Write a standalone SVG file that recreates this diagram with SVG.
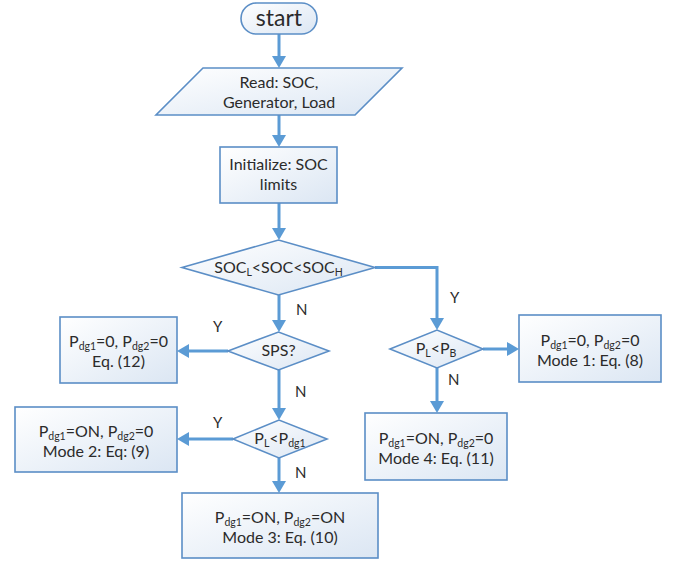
<svg xmlns="http://www.w3.org/2000/svg" width="683" height="564" viewBox="0 0 683 564">
  <defs>
    <linearGradient id="fillGrad" x1="0" y1="0" x2="1" y2="1">
      <stop offset="0" stop-color="#ffffff"/>
      <stop offset="1" stop-color="#dbe6f3"/>
    </linearGradient>
    <marker id="arrow" viewBox="0 0 12 14" markerWidth="12" markerHeight="14" refX="1" refY="7" orient="auto" markerUnits="userSpaceOnUse">
      <path d="M0,0 L12,7 L0,14 z" fill="#5b9bd5"/>
    </marker>
    <style>
      .shape { fill: url(#fillGrad); stroke: #5b8ec6; stroke-width: 1.6; }
      .conn { fill: none; stroke: #5b9bd5; stroke-width: 3; marker-end: url(#arrow); }
      text { font-family: Lato, "Open Sans", "Liberation Sans", sans-serif; font-size: 16px; fill: #2b2b2b; }
      .c { text-anchor: middle; }
      .lbl { font-size: 15px; }
      .title { font-size: 23px; }
      .sub { font-size: 10.5px; }
    </style>
  </defs>

  <g id="connectors">
    <path class="conn" d="M279,34 V57"/>
    <path class="conn" d="M279,115 V136"/>
    <path class="conn" d="M279,203 V229"/>
    <path class="conn" d="M279,295 V321"/>
    <path class="conn" d="M375,267.5 H437 V319"/>
    <path class="conn" d="M228,351 H188"/>
    <path class="conn" d="M279,370 V409"/>
    <path class="conn" d="M233,439 H188"/>
    <path class="conn" d="M279,458 V482"/>
    <path class="conn" d="M483,349 H508"/>
    <path class="conn" d="M437,368 V402"/>
    <text class="lbl" x="296" y="315">N</text>
    <text class="lbl" x="450" y="303">Y</text>
    <text class="lbl" x="213" y="332">Y</text>
    <text class="lbl" x="295" y="397">N</text>
    <text class="lbl" x="213" y="428">Y</text>
    <text class="lbl" x="295" y="478">N</text>
    <text class="lbl" x="448" y="385">N</text>
  </g>

  <g id="start">
    <rect class="shape" x="241" y="3" width="76" height="31" rx="15.5"/>
    <text class="c title" x="279" y="26">start</text>
  </g>

  <g id="read">
    <polygon class="shape" points="203,68 402,68 355,115 156,115"/>
    <text class="c" x="279" y="88">Read: SOC,</text>
    <text class="c" x="279" y="108">Generator, Load</text>
  </g>

  <g id="initialize">
    <rect class="shape" x="220" y="147" width="117" height="56"/>
    <text class="c" x="278.5" y="170">Initialize: SOC</text>
    <text class="c" x="278.5" y="190">limits</text>
  </g>

  <g id="decision-soc">
    <polygon class="shape" points="182,267.5 278.5,240 375,267.5 278.5,295"/>
    <text class="c" x="278.5" y="273">SOC<tspan class="sub" dy="3">L</tspan><tspan dy="-3">&lt;SOC&lt;SOC</tspan><tspan class="sub" dy="3">H</tspan></text>
  </g>

  <g id="decision-sps">
    <polygon class="shape" points="228,351 278.5,332 329,351 278.5,370"/>
    <text class="c" x="278.5" y="356">SPS?</text>
  </g>

  <g id="box-eq12">
    <rect class="shape" x="60" y="317" width="117" height="66"/>
    <text class="c" x="118.5" y="347">P<tspan class="sub" dy="3">dg1</tspan><tspan dy="-3">=0, P</tspan><tspan class="sub" dy="3">dg2</tspan><tspan dy="-3">=0</tspan></text>
    <text class="c" x="118.5" y="367">Eq. (12)</text>
  </g>

  <g id="decision-pl-pdg1">
    <polygon class="shape" points="233,439 279,420 327,439 279,458"/>
    <text class="c" x="280" y="444">P<tspan class="sub" dy="3">L</tspan><tspan dy="-3">&lt;P</tspan><tspan class="sub" dy="3">dg1</tspan></text>
  </g>

  <g id="box-mode2">
    <rect class="shape" x="15" y="407" width="162" height="65"/>
    <text class="c" x="96" y="437">P<tspan class="sub" dy="3">dg1</tspan><tspan dy="-3">=ON, P</tspan><tspan class="sub" dy="3">dg2</tspan><tspan dy="-3">=0</tspan></text>
    <text class="c" x="96" y="457">Mode 2: Eq: (9)</text>
  </g>

  <g id="box-mode3">
    <rect class="shape" x="182" y="493" width="196" height="65"/>
    <text class="c" x="280" y="523">P<tspan class="sub" dy="3">dg1</tspan><tspan dy="-3">=ON, P</tspan><tspan class="sub" dy="3">dg2</tspan><tspan dy="-3">=ON</tspan></text>
    <text class="c" x="280" y="543">Mode 3: Eq. (10)</text>
  </g>

  <g id="decision-pl-pb">
    <polygon class="shape" points="390,349 437,330 483,349 437,368"/>
    <text class="c" x="436" y="354">P<tspan class="sub" dy="3">L</tspan><tspan dy="-3">&lt;P</tspan><tspan class="sub" dy="3">B</tspan></text>
  </g>

  <g id="box-mode1">
    <rect class="shape" x="519" y="315" width="142" height="67"/>
    <text class="c" x="590" y="346">P<tspan class="sub" dy="3">dg1</tspan><tspan dy="-3">=0, P</tspan><tspan class="sub" dy="3">dg2</tspan><tspan dy="-3">=0</tspan></text>
    <text class="c" x="590" y="366">Mode 1: Eq. (8)</text>
  </g>

  <g id="box-mode4">
    <rect class="shape" x="365" y="413" width="142" height="67"/>
    <text class="c" x="436" y="444">P<tspan class="sub" dy="3">dg1</tspan><tspan dy="-3">=ON, P</tspan><tspan class="sub" dy="3">dg2</tspan><tspan dy="-3">=0</tspan></text>
    <text class="c" x="436" y="464">Mode 4: Eq. (11)</text>
  </g>
</svg>
